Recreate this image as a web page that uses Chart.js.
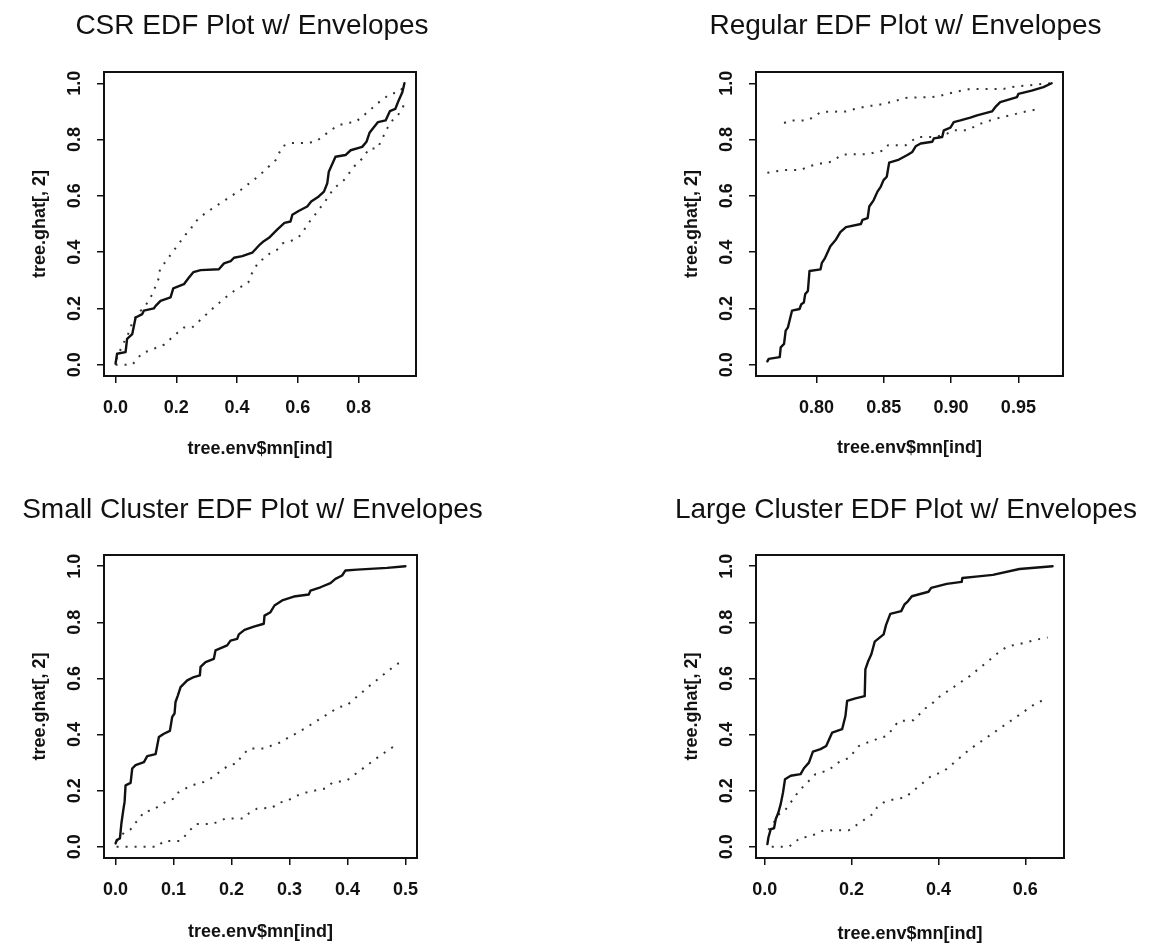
<!DOCTYPE html>
<html>
<head>
<meta charset="utf-8">
<script src="https://cdn.jsdelivr.net/npm/chart.js@4.4.1/dist/chart.umd.min.js"></script>
<style>
  html, body { margin: 0; background: #fff; }
  #page { position: relative; width: 1166px; height: 945px; }
  #page canvas { position: absolute; }
</style>
</head>
<body>
<div id="page">
  <canvas id="csr"></canvas>
  <canvas id="regular"></canvas>
  <canvas id="small"></canvas>
  <canvas id="large"></canvas>
</div>
<script>
// tick positions shared by every panel
const yTicks = [0, 0.2, 0.4, 0.6, 0.8, 1.0];

// CSR pattern: observed EDF and simulation envelopes, [mean, ghat]
const csrXTicks = [0, 0.2, 0.4, 0.6, 0.8];
const csrEdf = [[0,0.004],[0.005,0.039],[0.033,0.045],[0.038,0.092],[0.055,0.109],[0.066,0.168],[0.088,0.18],[0.093,0.192],[0.126,0.2],[0.132,0.209],[0.148,0.227],[0.181,0.239],[0.19,0.271],[0.225,0.286],[0.241,0.309],[0.256,0.329],[0.28,0.336],[0.34,0.339],[0.357,0.36],[0.379,0.368],[0.39,0.38],[0.417,0.386],[0.45,0.398],[0.475,0.427],[0.488,0.439],[0.505,0.451],[0.532,0.48],[0.556,0.504],[0.576,0.509],[0.582,0.533],[0.604,0.547],[0.631,0.562],[0.644,0.58],[0.669,0.598],[0.686,0.615],[0.697,0.645],[0.702,0.686],[0.724,0.739],[0.757,0.745],[0.774,0.762],[0.812,0.774],[0.826,0.792],[0.836,0.824],[0.864,0.862],[0.889,0.868],[0.903,0.901],[0.921,0.909],[0.932,0.939],[0.944,0.968],[0.951,1.0]];
const csrUpper = [[0.003,0.02],[0.022,0.068],[0.044,0.115],[0.055,0.15],[0.077,0.188],[0.093,0.2],[0.121,0.25],[0.132,0.28],[0.143,0.309],[0.146,0.339],[0.23,0.462],[0.247,0.48],[0.258,0.504],[0.296,0.539],[0.362,0.586],[0.412,0.621],[0.472,0.671],[0.527,0.727],[0.538,0.751],[0.549,0.776],[0.576,0.788],[0.631,0.788],[0.658,0.792],[0.68,0.809],[0.708,0.833],[0.735,0.851],[0.763,0.859],[0.79,0.862],[0.837,0.904],[0.864,0.93],[0.905,0.963],[0.932,0.968],[0.951,0.99]];
const csrLower = [[0,0],[0.027,0],[0.055,0],[0.088,0.042],[0.115,0.051],[0.137,0.062],[0.159,0.071],[0.203,0.113],[0.225,0.132],[0.252,0.132],[0.329,0.209],[0.362,0.239],[0.39,0.262],[0.437,0.292],[0.444,0.315],[0.472,0.368],[0.488,0.376],[0.51,0.398],[0.532,0.409],[0.549,0.431],[0.576,0.439],[0.6,0.451],[0.615,0.468],[0.631,0.498],[0.653,0.527],[0.664,0.545],[0.686,0.574],[0.702,0.6],[0.719,0.627],[0.752,0.656],[0.785,0.704],[0.818,0.739],[0.834,0.768],[0.862,0.768],[0.894,0.839],[0.905,0.862],[0.925,0.88],[0.944,0.909],[0.951,0.93]];

// regular pattern
const regXTicks = [0.80, 0.85, 0.90, 0.95];
const regEdf = [[0.7635,0.012],[0.7645,0.021],[0.7727,0.027],[0.7734,0.062],[0.7759,0.074],[0.7771,0.121],[0.7788,0.133],[0.7818,0.192],[0.7874,0.198],[0.7887,0.215],[0.7906,0.221],[0.7916,0.251],[0.7936,0.262],[0.7948,0.333],[0.803,0.339],[0.804,0.362],[0.8064,0.38],[0.8103,0.421],[0.8145,0.445],[0.8177,0.471],[0.8219,0.489],[0.833,0.5],[0.8342,0.515],[0.838,0.521],[0.8392,0.562],[0.8424,0.584],[0.8453,0.615],[0.8478,0.633],[0.8498,0.656],[0.8522,0.668],[0.854,0.718],[0.8613,0.729],[0.8675,0.745],[0.8712,0.756],[0.8737,0.776],[0.8774,0.786],[0.886,0.792],[0.8872,0.804],[0.8934,0.809],[0.8946,0.833],[0.8995,0.842],[0.902,0.862],[0.9069,0.868],[0.9143,0.878],[0.9193,0.886],[0.9304,0.9],[0.9328,0.915],[0.9365,0.933],[0.949,0.951],[0.95,0.962],[0.9599,0.974],[0.9686,0.986],[0.9747,1.0]];
const regUpper = [[0.7759,0.859],[0.7808,0.868],[0.7936,0.868],[0.8034,0.898],[0.8219,0.9],[0.8269,0.907],[0.838,0.919],[0.8441,0.921],[0.8552,0.933],[0.8663,0.948],[0.886,0.951],[0.8921,0.956],[0.902,0.968],[0.9143,0.98],[0.939,0.98],[0.9439,0.986],[0.9562,0.992],[0.9735,1.0]];
const regLower = [[0.7635,0.682],[0.7759,0.692],[0.7887,0.692],[0.7936,0.704],[0.8034,0.715],[0.8108,0.721],[0.8195,0.747],[0.838,0.748],[0.8503,0.762],[0.8532,0.78],[0.8663,0.78],[0.8749,0.809],[0.8884,0.809],[0.8971,0.821],[0.902,0.833],[0.9118,0.833],[0.9217,0.856],[0.9328,0.874],[0.9439,0.886],[0.9537,0.898],[0.9624,0.906]];

// small cluster pattern
const smallXTicks = [0, 0.1, 0.2, 0.3, 0.4, 0.5];
const smallEdf = [[0,0.012],[0.002,0.024],[0.0075,0.03],[0.01,0.083],[0.0132,0.13],[0.0155,0.16],[0.0172,0.219],[0.0259,0.228],[0.0287,0.279],[0.0345,0.291],[0.0489,0.302],[0.0546,0.323],[0.069,0.33],[0.0747,0.391],[0.0833,0.403],[0.0937,0.413],[0.0977,0.463],[0.1017,0.475],[0.1034,0.516],[0.1075,0.54],[0.1121,0.569],[0.1236,0.593],[0.135,0.605],[0.1454,0.611],[0.1466,0.641],[0.1552,0.658],[0.1695,0.67],[0.1724,0.7],[0.1925,0.718],[0.1983,0.735],[0.2098,0.741],[0.2126,0.757],[0.2224,0.773],[0.2385,0.785],[0.2557,0.795],[0.2569,0.824],[0.2672,0.836],[0.2741,0.86],[0.2874,0.878],[0.3075,0.892],[0.3333,0.899],[0.3362,0.913],[0.3534,0.925],[0.3707,0.94],[0.3793,0.955],[0.3908,0.967],[0.3966,0.985],[0.4167,0.988],[0.4684,0.994],[0.5,1.0]];
const smallUpper = [[0.0017,0.02],[0.0155,0.053],[0.0259,0.062],[0.0316,0.081],[0.0402,0.097],[0.0489,0.125],[0.0632,0.13],[0.0862,0.16],[0.1006,0.172],[0.1052,0.19],[0.1264,0.214],[0.1408,0.225],[0.1523,0.231],[0.1638,0.243],[0.1954,0.291],[0.2098,0.297],[0.2155,0.318],[0.2299,0.35],[0.2586,0.35],[0.2701,0.362],[0.2816,0.37],[0.3259,0.421],[0.3851,0.498],[0.3983,0.503],[0.4425,0.581],[0.4856,0.652],[0.4983,0.661]];
const smallLower = [[0.0017,0],[0.072,0],[0.083,0.021],[0.112,0.021],[0.138,0.081],[0.167,0.081],[0.19,0.101],[0.221,0.101],[0.23,0.119],[0.244,0.136],[0.27,0.139],[0.2816,0.157],[0.296,0.163],[0.3075,0.178],[0.319,0.187],[0.333,0.196],[0.362,0.208],[0.3736,0.228],[0.3994,0.237],[0.411,0.255],[0.457,0.326],[0.4787,0.356],[0.49,0.36]];

// large cluster pattern
const largeXTicks = [0, 0.2, 0.4, 0.6];
const largeEdf = [[0.0061,0.0095],[0.0084,0.033],[0.0138,0.063],[0.0214,0.066],[0.0252,0.098],[0.0314,0.122],[0.0367,0.152],[0.042,0.193],[0.0467,0.241],[0.0597,0.253],[0.0826,0.259],[0.0902,0.28],[0.1017,0.3],[0.1109,0.339],[0.1285,0.348],[0.1415,0.359],[0.1553,0.407],[0.1667,0.413],[0.1782,0.419],[0.1858,0.466],[0.1897,0.52],[0.2088,0.529],[0.2302,0.537],[0.2317,0.632],[0.2379,0.66],[0.2455,0.686],[0.2532,0.731],[0.2738,0.757],[0.2792,0.79],[0.2891,0.83],[0.3143,0.84],[0.322,0.864],[0.3296,0.875],[0.3388,0.893],[0.3771,0.909],[0.3832,0.923],[0.4191,0.937],[0.4535,0.944],[0.4551,0.958],[0.4918,0.964],[0.5253,0.969],[0.5865,0.99],[0.6629,1.0]];
const largeUpper = [[0.0084,0.06],[0.0237,0.093],[0.0329,0.116],[0.0467,0.13],[0.0788,0.199],[0.117,0.259],[0.1361,0.268],[0.1476,0.273],[0.1629,0.294],[0.1782,0.308],[0.1935,0.316],[0.2164,0.359],[0.2317,0.369],[0.2471,0.377],[0.2624,0.387],[0.2815,0.395],[0.3082,0.448],[0.3426,0.451],[0.3694,0.493],[0.3847,0.508],[0.3939,0.526],[0.4727,0.609],[0.5444,0.7],[0.5597,0.714],[0.5773,0.72],[0.5957,0.726],[0.6339,0.741],[0.6515,0.746]];
const largeLower = [[0.0161,0],[0.0558,0],[0.0826,0.033],[0.1032,0.036],[0.1361,0.059],[0.1935,0.059],[0.2509,0.119],[0.2585,0.14],[0.2738,0.158],[0.2914,0.167],[0.3235,0.176],[0.3809,0.249],[0.3962,0.259],[0.4153,0.273],[0.4727,0.348],[0.6232,0.51],[0.6399,0.522]];

const FONT = '"Liberation Sans", Arial, Helvetica, sans-serif';
Chart.defaults.font.family = FONT;
Chart.defaults.color = '#111';

// plot frame + main title, R style
const framePlugin = {
  id: 'frame',
  afterDraw(chart, args, opts) {
    const { ctx, chartArea: a } = chart;
    ctx.save();
    ctx.strokeStyle = '#111';
    ctx.lineWidth = 2;
    ctx.strokeRect(a.left, a.top, a.right - a.left, a.bottom - a.top);
    ctx.fillStyle = '#111';
    ctx.font = '28px ' + FONT;
    ctx.textAlign = 'center';
    ctx.textBaseline = 'alphabetic';
    ctx.fillText(opts.text, (a.left + a.right) / 2 + opts.dx, opts.baseline);
    ctx.restore();
  }
};

const toXY = (pts) => pts.map(([x, y]) => ({ x, y }));

// R's default axis range: data range padded by 4% on each side
function rRange(series) {
  const xs = series.flat().map((p) => p[0]);
  const lo = Math.min(...xs), hi = Math.max(...xs);
  const pad = (hi - lo) * 0.04;
  return [lo - pad, hi + pad];
}

function drawPanel(p) {
  const canvas = document.getElementById(p.id);
  canvas.width = p.w;
  canvas.height = p.h;
  canvas.style.left = p.left + 'px';
  canvas.style.top = p.top + 'px';

  const [xMin, xMax] = rRange([p.edf, p.upper, p.lower]);
  const yAxisW = p.box[0];
  const xAxisH = p.h - p.box[3];
  const tickFont = { size: 18, weight: 'bold' };
  const tickGrid = {
    display: true, drawOnChartArea: false, drawTicks: true,
    tickLength: 7, color: '#111', lineWidth: 1.5
  };
  // lty = 3 dotted envelope
  const envelope = (pts) => ({
    data: toXY(pts), showLine: true, pointRadius: 0,
    borderColor: '#333', borderWidth: 2, borderDash: [2, 7]
  });

  new Chart(canvas, {
    type: 'scatter',
    data: {
      datasets: [
        {
          data: toXY(p.edf), showLine: true, pointRadius: 0,
          borderColor: '#111', borderWidth: 2.4,
          borderJoinStyle: 'round', borderCapStyle: 'round'
        },
        envelope(p.upper),
        envelope(p.lower)
      ]
    },
    options: {
      responsive: false,
      animation: false,
      events: [],
      layout: { padding: { left: 0, top: p.box[1], right: p.w - p.box[2], bottom: 0 } },
      plugins: {
        legend: { display: false },
        tooltip: { enabled: false },
        frame: { text: p.title, dx: p.titleDx, baseline: p.titleBase }
      },
      scales: {
        x: {
          type: 'linear', min: xMin, max: xMax,
          grid: tickGrid, border: { display: false },
          afterBuildTicks: (s) => { s.ticks = p.xTicks.map((v) => ({ value: v })); },
          afterFit: (s) => { s.height = xAxisH; },
          ticks: {
            font: tickFont, color: '#111', padding: 14, autoSkip: false,
            minRotation: 0, maxRotation: 0,
            callback: (v) => Number(v).toFixed(p.xDigits)
          },
          title: {
            display: true, text: 'tree.env$mn[ind]', color: '#111',
            font: { size: 18, weight: 'bold' },
            padding: { top: 0, bottom: p.xTitlePad }
          }
        },
        y: {
          type: 'linear', min: -0.04, max: 1.04,
          grid: tickGrid, border: { display: false },
          afterBuildTicks: (s) => { s.ticks = yTicks.map((v) => ({ value: v })); },
          afterFit: (s) => { s.width = yAxisW; },
          ticks: {
            font: tickFont, color: '#111', padding: 9, autoSkip: false,
            minRotation: 90, maxRotation: 90, crossAlign: 'center',
            callback: (v) => Number(v).toFixed(1)
          },
          title: {
            display: true, text: 'tree.ghat[, 2]', color: '#111',
            font: { size: 18, weight: 'bold' },
            padding: { top: yAxisW - 63.5 - 10.8, bottom: 0 }
          }
        }
      }
    },
    plugins: [framePlugin]
  });
}

// canvas placement and plot boxes (canvas-relative: left, top, right, bottom)
drawPanel({
  id: 'csr', left: 0, top: 0, w: 583, h: 472, box: [104, 72, 416, 376],
  title: 'CSR EDF Plot w/ Envelopes', titleDx: -8, titleBase: 33.5,
  xTicks: csrXTicks, xDigits: 1, xTitlePad: 12,
  edf: csrEdf, upper: csrUpper, lower: csrLower
});
drawPanel({
  id: 'regular', left: 583, top: 0, w: 583, h: 472, box: [173, 72, 480, 376],
  title: 'Regular EDF Plot w/ Envelopes', titleDx: -4, titleBase: 33.5,
  xTicks: regXTicks, xDigits: 2, xTitlePad: 13,
  edf: regEdf, upper: regUpper, lower: regLower
});
drawPanel({
  id: 'small', left: 0, top: 472, w: 583, h: 473, box: [104, 83, 417, 386],
  title: 'Small Cluster EDF Plot w/ Envelopes', titleDx: -8, titleBase: 46,
  xTicks: smallXTicks, xDigits: 1, xTitlePad: 2,
  edf: smallEdf, upper: smallUpper, lower: smallLower
});
drawPanel({
  id: 'large', left: 583, top: 472, w: 583, h: 473, box: [173, 83, 481, 386],
  title: 'Large Cluster EDF Plot w/ Envelopes', titleDx: -4, titleBase: 46,
  xTicks: largeXTicks, xDigits: 1, xTitlePad: 0,
  edf: largeEdf, upper: largeUpper, lower: largeLower
});
</script>
</body>
</html>
